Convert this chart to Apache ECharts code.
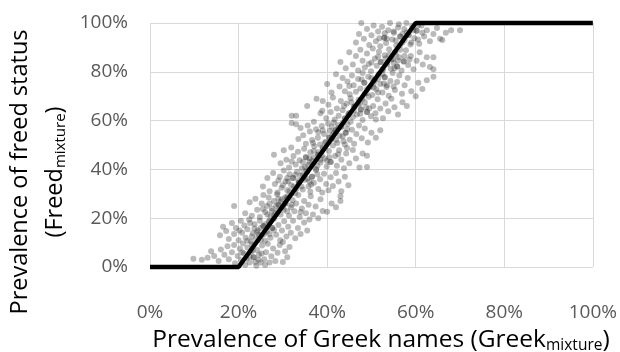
<!DOCTYPE html>
<html>
<head>
<meta charset="utf-8">
<script src="https://cdn.jsdelivr.net/npm/echarts@6/dist/echarts.min.js"></script>
<style>
  html, body { margin: 0; padding: 0; background: #fff; }
  #chart { width: 620px; height: 352px; }
</style>
</head>
<body>
<div id="chart"></div>
<script>
// Axis tick values (percent)
const xTicks = [0, 20, 40, 60, 80, 100];
const yTicks = [0, 20, 40, 60, 80, 100];

// Piecewise threshold curve: Greek share -> freed share (percent)
const curveGreek = [0, 20, 60, 100];
const curveFreed = [0, 0, 100, 100];

// Observed mixtures: [Greek %, Freed %]
const mixtures = [
  // Freed 0-10
  [9.8,3.4],[11.7,3],[13,3.8],[13.8,6.5],[14.5,4.5],[15.5,2.5],[16,7.2],[16.8,5],[17.5,8.5],[17.8,3.2],
  [18.5,6],[19,9],[19.2,1.5],[19.8,4.5],[20.3,7.5],[20.6,2.8],[21,9.6],[21.2,5.5],[21.8,3.5],[22,8],
  [22.5,1.8],[22.8,6.2],[23,9.2],[23.4,4],[23.8,2],[24.2,7],[24.6,5],[25,1.8],[25.3,8.8],[25.8,3.2],
  [26.2,6],[26.6,9.5],[27,1.8],[27.4,4.4],[27.8,7.6],[28.3,2.5],[28.8,5.8],[29.3,9],[30,2],[30.5,6.5],
  [31,4],[31.5,8.2],[21.5,0.8],[24,0.5],[26,0.8],
  [22.5,4.2],[23.2,6.8],[24.5,3],[25.2,5.5],[20.8,6],[23.4,4],
  // Freed 10-20
  [15.8,13],[16.5,16.5],[17.2,14.8],[17.8,11.5],[18.5,18],[19,13.5],[19.4,16],[20,11],[20.5,19],[20.8,14],
  [21.3,17],[21.6,12],[22,15.5],[22.4,19.5],[22.8,10.5],[23.2,13.8],[23.6,17.5],[24,11.8],[24.3,15],[24.8,19],
  [25.2,12.8],[25.6,16.8],[26,10.8],[26.4,14.5],[26.8,18.5],[27.2,12],[27.6,16],[28,19.8],[28.5,13.2],[29,17.2],
  [29.4,11],[29.8,15],[30.3,18.8],[30.8,12.5],[31.2,16.5],[31.8,14],[32.3,19],[32.8,11.8],[33.4,16],[34,13.5],
  [34.8,18.2],[35.5,15],[36,19.5],[25,11],[27,13.5],[22.6,18],[28,15.2],[24.6,13.2],[20.2,15],[30,10.2],
  [22,10.8],[23,12.5],[24.2,14.2],[25,16],[26,17.5],[27,19],[23.6,15.8],[25.8,13.5],[25.6,16.8],[27.6,16],
  // Freed 20-30
  [19,25],[21.5,22],[22.5,26.5],[23,21],[23.8,28],[24.2,23.5],[24.8,20.5],[25.2,26],[25.6,29.5],[26,22.5],
  [26.4,25],[26.8,28.5],[27.2,20.8],[27.6,24],[28,27],[28.3,22],[28.7,29.8],[29,25.5],[29.5,21.5],[29.8,27.8],
  [30.2,23.5],[30.6,26],[31,29],[31.4,21],[31.8,24.5],[32.2,27.5],[32.6,22.8],[33,26],[33.5,29.5],[33.8,20.5],
  [34.3,24],[34.8,27],[35.2,22],[35.8,25.5],[36.3,29],[36.8,21.5],[37.4,24.8],[38,20],[38.5,27.8],[39,23],
  [40,22.6],[41,26],[42,24.5],[43,29],[43,27],[27,26],[30,24.5],[32,25.5],[25.5,23.8],[28.8,23],
  [34,22.5],[31,28.2],
  [26.5,21.5],[27.5,23],[28.5,25],[29.5,26.8],[30.5,28.5],[28,21],[31,22.8],[29,28],[29,25.5],[30.6,26],
  // Freed 30-40
  [25.5,33],[26.5,36.5],[27,31],[27.8,38.5],[28.2,34],[28.8,30.5],[29.3,37],[29.7,32.5],[30.2,39.5],[30.6,35],
  [31,31.5],[31.5,38],[31.9,33.5],[32.3,36.5],[32.8,30.2],[33.2,39],[33.6,34.5],[34,37.5],[34.5,31.8],[34.9,35.8],
  [35.3,39.5],[35.8,33],[36.2,30.8],[36.6,37],[37,34.5],[37.5,39.8],[38,32],[38.4,36],[38.9,30.5],[39.3,38.2],
  [39.8,34],[40.3,31.5],[40.8,36.8],[41.3,33.2],[42,38.5],[42.6,35],[43.2,31],[44,37],[44.8,33.5],[30,33.5],
  [33,32],[35.5,36.2],[37.8,38],[29,35.5],[36.4,33.8],[31.2,35],[34.2,33],
  [31.5,31],[32.5,33],[33.5,35.5],[34.5,38],[35.5,39],[31,36.5],[32.8,37.8],[36,35],[33.6,34.5],[36.6,37],[32.3,36.5],
  // Freed 40-50
  [28,46],[29.5,42.5],[30.2,47.8],[30.8,44],[31.4,40.8],[31.9,49],[32.4,45.5],[32.9,42],[33.4,47.2],[33.8,43.8],
  [34.3,40.5],[34.8,48.5],[35.2,45],[35.7,41.8],[36.2,47],[36.6,43.5],[37.1,49.5],[37.5,40.2],[38,46],[38.5,42.8],
  [39,48.2],[39.4,44.5],[39.9,41.2],[40.4,47.5],[40.8,43],[41.3,49.8],[41.8,45.5],[42.2,41.5],[42.7,47.8],[43.2,44],
  [43.8,40.5],[44.3,46.5],[45,42.5],[45.8,48],[46.5,44.5],[47.3,40.8],[48,46.5],[49,45.6],[49,41],[36,44.6],
  [38.8,45.8],[34.5,43],[40,43.5],[37.8,41.5],[42.5,46.2],[32,43.2],[44.5,48.8],
  [35,41],[36,43],[37,45],[38,47],[39,49],[37,47.5],[38.5,44],[40.5,45],[38,46],[40.8,43],[35.2,45],
  // Freed 50-60
  [32,59],[33,58.5],[33.5,52.5],[34,57],[34.6,54],[35.2,50.5],[35.6,58],[36.1,55.5],[36.6,52],[37,59.5],
  [37.5,56.5],[37.9,53],[38.4,50.2],[38.8,57.8],[39.3,54.5],[39.7,51.2],[40.2,58.8],[40.6,55.8],[41,52.5],[41.5,59.2],
  [41.9,56],[42.3,50.8],[42.8,53.8],[43.2,57.5],[43.7,51.5],[44.2,55],[44.6,58.5],[45.1,52.2],[45.6,56.2],[46.1,50.5],
  [46.6,54.5],[47.2,58],[47.8,52.8],[48.5,56.8],[49.2,51],[50,55],[51,53],[52,56],[39,56],[41.2,54],
  [43.5,53.5],[45.3,59.5],[36.8,50.8],[40.4,53.2],[44,50.2],[38,55.2],[42.5,58.2],
  [39.5,51],[40.5,53],[41.5,55],[42.5,57],[43.5,59],[41,57.5],[42,52],[44.5,56.5],[41.9,56],[44.2,55],[43.2,57.5],
  // Freed 60-70
  [32,62],[33,62],[35.5,66],[37.6,69],[38.5,63],[38.9,64],[39,68],[39.8,61],[40.3,66.5],[40.8,63.5],
  [41.3,69.5],[41.7,60.5],[42.2,65],[42.6,62],[43.1,68],[43.5,64.2],[44,60.8],[44.4,67],[44.9,63],[45.3,69.2],
  [45.8,61.5],[46.2,65.8],[46.7,62.5],[47.1,68.5],[47.6,64.5],[48,60.2],[48.5,67.5],[49,63.5],[49.4,69.8],[49.9,61.8],
  [50.4,66],[50.9,63],[51.4,68.8],[52,65],[52.6,61],[53.2,67],[53.8,63.8],[54.5,69],[55.2,65.5],[56,62.5],
  [57,67.5],[58,66],[43.8,66],[46,64],[48.8,65.5],[51,60.4],[44.7,62.2],[47.4,66.8],
  [44,61],[45,63],[46,65.5],[47,67],[48,69],[45.5,67.5],[47.5,62.8],[49.5,65],[46.2,65.8],[49,63.5],[47.6,64.5],
  // Freed 70-80
  [40,75],[41,71.5],[42,79],[42.8,74],[43.5,77.5],[44,72],[44.6,76],[45.1,70.8],[45.6,78.5],[46,74.5],
  [46.5,71.8],[47,77],[47.5,73.2],[48,79.5],[48.4,75.5],[48.9,71.2],[49.3,78],[49.8,74],[50.2,70.5],[50.7,76.5],
  [51.1,72.8],[51.6,79],[52,75],[52.5,71.5],[53,77.8],[53.4,73.8],[53.9,70.2],[54.3,76.2],[54.8,79.5],[55.3,72.5],
  [55.8,75.8],[56.3,78.5],[56.9,71],[57.5,74.5],[58.2,77.5],[59,72],[60,70],[60.6,75.5],[61.5,73],[62.5,76.5],
  [64,78],[50.5,73.6],[47.8,76.8],[52.8,75.2],[45,74.2],[55,74],[49,72.8],
  [48.5,71],[49.5,73.5],[50.5,75],[51.5,77],[52.5,79],[50,77.5],[51.5,71.5],[53.5,74.5],[48.4,75.5],[53,77.8],[50.7,76.5],
  // Freed 80-90
  [43,84],[44.2,81.5],[45,88],[45.8,83],[46.5,86.5],[47,80.5],[47.5,89],[48,84.5],[48.5,81.8],[49,87.5],
  [49.4,83.2],[49.9,80.2],[50.3,89.5],[50.8,85.5],[51.2,82.5],[51.7,88.2],[52.1,84],[52.6,80.8],[53,86.8],[53.5,83.5],
  [54,89.2],[54.4,81.2],[54.9,85.2],[55.3,88],[55.8,82.2],[56.3,86],[56.8,80.5],[57.3,84.2],[57.8,88.8],[58.3,82.8],
  [58.9,86.5],[59.5,81],[60.2,84.5],[60.9,88],[61.6,83],[62.5,86],[63.2,82],[64,86],[64,81],[53.2,85.5],
  [56,84.6],[51.5,86.2],[58.6,85],[50,83.8],[55,83.6],
  [52.5,81],[53.5,83],[54.5,85],[55.5,87],[56.5,89],[54,87],[55.2,81.5],[57.5,86.5],[52.1,84],[57.3,84.2],[55.8,82.2],
  // Freed 90-100
  [46.5,92],[47.2,95.5],[47.7,100],[48.3,93.5],[49,97.5],[49.5,91],[50,95],[50.5,99],[51,92.5],[51.5,96.5],
  [52,90.5],[52.4,98.5],[52.9,94],[53.3,91.8],[53.8,97],[54.2,100],[54.7,93.2],[55.1,96],[55.6,90.8],[56,98.2],
  [56.5,94.5],[57,92],[57.4,97.5],[57.9,100],[58.3,95.2],[58.8,91.2],[59.2,98.8],[59.7,93.8],[60.2,96.8],[60.8,91.5],
  [61.3,99],[61.9,94.5],[62.5,97],[63.2,92.5],[64,95.5],[64.8,98],[65.5,93.5],[66,93],[66.8,96],[68,97],
  [70,97],[53,95.8],[55.5,92.8],[58,96.2],[60.5,93.2],[56.2,99.5],[51.8,93.8],
  [56.5,91],[57.5,93],[58.5,95],[59.5,97],[60.5,99],[57,95.5],[59,92],[61.5,96],[55,96.5],[53.5,93.5],[56.5,94.5],[60.2,96.8],[52.9,94]
];

const FONT = '"Open Sans", Lato, sans-serif';
const TEXT = '#595959';
const GRID = '#d9d9d9';

const chart = echarts.init(document.getElementById('chart'), null, { renderer: 'canvas' });

const curve = curveGreek.map((g, i) => [g, curveFreed[i]]);

chart.setOption({
  animation: false,
  backgroundColor: '#ffffff',
  grid: { left: 150, right: 27, top: 23, bottom: 85, containLabel: false },
  xAxis: {
    type: 'value',
    min: xTicks[0],
    max: xTicks[xTicks.length - 1],
    interval: xTicks[1] - xTicks[0],
    axisLine: { show: false },
    axisTick: { show: false },
    splitLine: { show: true, lineStyle: { color: GRID, width: 1 } },
    axisLabel: { formatter: '{value}%', color: TEXT, fontFamily: FONT, fontSize: 19, margin: 36 }
  },
  yAxis: {
    type: 'value',
    min: yTicks[0],
    max: yTicks[yTicks.length - 1],
    interval: yTicks[1] - yTicks[0],
    axisLine: { show: false },
    axisTick: { show: false },
    splitLine: { show: true, lineStyle: { color: GRID, width: 1 } },
    axisLabel: { formatter: '{value}%', color: TEXT, fontFamily: FONT, fontSize: 19, margin: 22 }
  },
  graphic: [
    {
      type: 'text',
      x: 381,
      y: 340,
      style: {
        text: '{b|Prevalence of Greek names (Greek}{s|mixture}{b|)}',
        align: 'center',
        verticalAlign: 'middle',
        rich: {
          b: { fontFamily: FONT, fontSize: 24.5, color: TEXT, lineHeight: 28 },
          s: { fontFamily: FONT, fontSize: 15.5, color: TEXT, lineHeight: 28, padding: [11, 0, 0, 0] }
        }
      }
    },
    {
      type: 'text',
      x: 38,
      y: 172,
      rotation: Math.PI / 2,
      style: {
        text: '{b|Prevalence of freed status}\n{b|(Freed}{s|mixture}{b|)}',
        align: 'center',
        verticalAlign: 'middle',
        rich: {
          b: { fontFamily: FONT, fontSize: 23.5, color: TEXT, lineHeight: 35, align: 'center' },
          s: { fontFamily: FONT, fontSize: 15, color: TEXT, lineHeight: 35, padding: [11, 0, 0, 0] }
        }
      }
    }
  ],
  series: [
    {
      name: 'Mixtures',
      type: 'scatter',
      data: mixtures,
      symbol: 'circle',
      symbolSize: 6,
      itemStyle: { color: 'rgba(50,50,50,0.42)' },
      clip: false,
      z: 2
    },
    {
      name: 'Threshold',
      type: 'line',
      data: curve,
      symbol: 'none',
      lineStyle: { color: '#000000', width: 4.5 },
      clip: false,
      z: 3
    }
  ]
});
</script>
</body>
</html>
